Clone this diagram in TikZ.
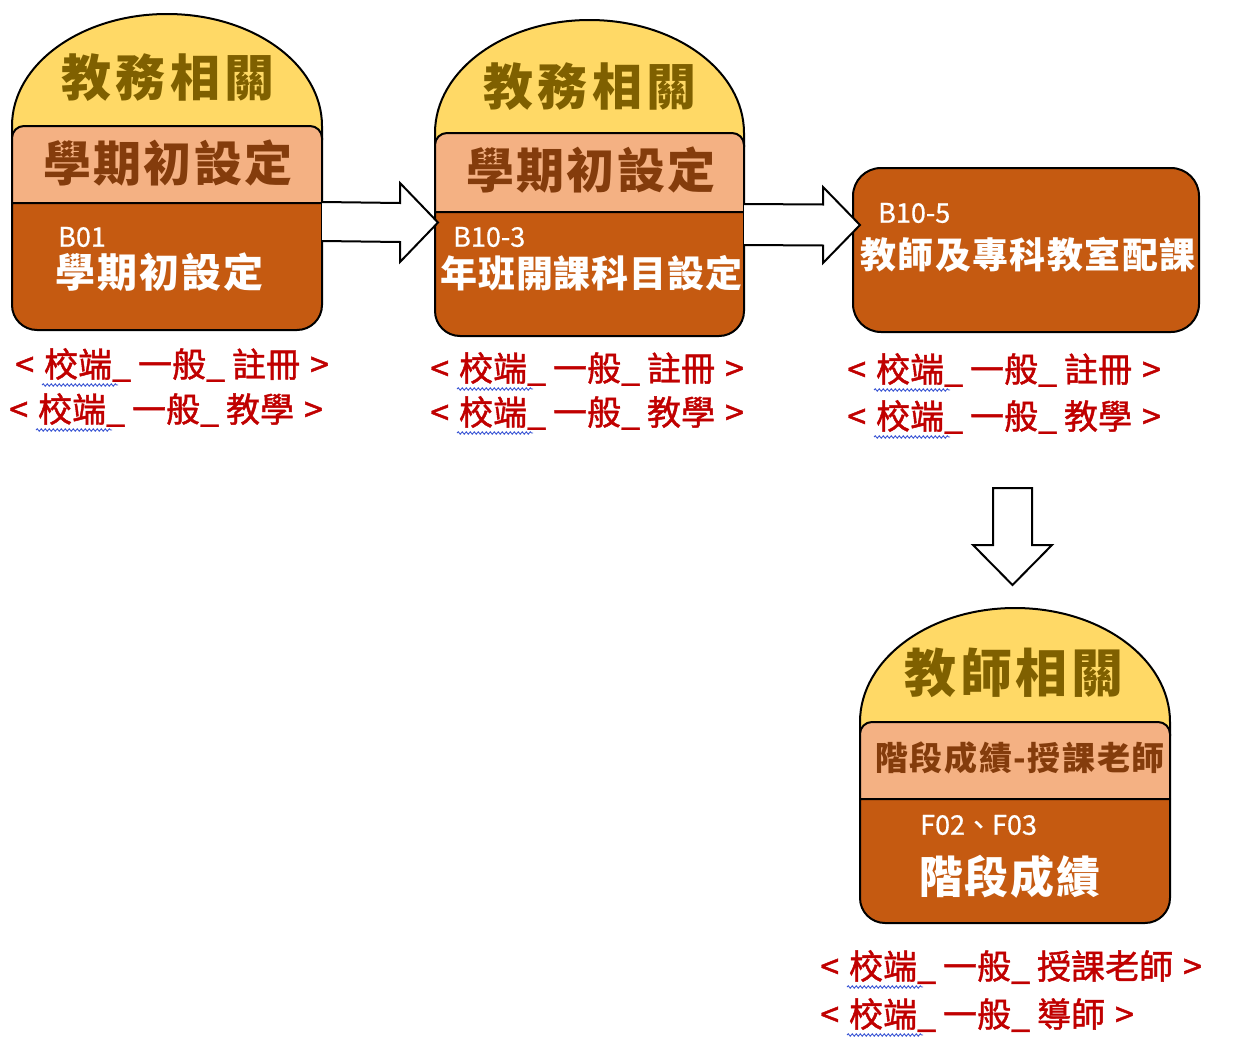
\documentclass[tikz,border=0pt]{standalone}
\usepackage{fontspec}
\setmainfont{Noto Sans CJK TC}
\newfontfamily\headfont[LetterSpace=5]{Noto Sans CJK TC}
\newfontfamily\lblfont[FakeBold=1.3]{Noto Sans CJK TC}
\newfontfamily\codefont[FakeBold=0.6]{Noto Sans CJK TC}
\usetikzlibrary{calc,decorations.pathmorphing}
\definecolor{domefill}{HTML}{FFD966}
\definecolor{dometext}{HTML}{7F6000}
\definecolor{peachfill}{HTML}{F4B183}
\definecolor{peachtext}{HTML}{843C0C}
\definecolor{darkfill}{HTML}{C55A11}
\definecolor{lblred}{HTML}{C00000}
\definecolor{spellblue}{HTML}{3A56D4}
\newcommand\lbltext[1]{<\hspace{10pt}校端\_\hspace{7pt}一般\_\hspace{7pt}#1\hspace{10pt}>}
% L R T P D B
\newcommand\drawburger[6]{%
  \pgfmathsetmacro\bxr{(#2-#1)/2}%
  \pgfmathsetmacro\byr{#4-#3}%
  \draw[outline, fill=domefill] (#1,#4+14) -- (#1,#4) arc[start angle=180,end angle=0,x radius=\bxr pt,y radius=\byr pt] -- (#2,#4+14) -- cycle;
  \draw[outline, fill=peachfill] (#1,#5) -- (#1,#4+12) arc[start angle=180,end angle=90,radius=12pt] -- (#2-12,#4) arc[start angle=90,end angle=0,radius=12pt] -- (#2,#5) -- cycle;
  \draw[outline, fill=darkfill] (#1,#5) -- (#1,#6-25) arc[start angle=180,end angle=270,radius=25pt] -- (#2-25,#6) arc[start angle=270,end angle=360,radius=25pt] -- (#2,#5) -- cycle;
}
% wavy spell-check underline under the first word of a label node
\newcommand\wavy[1]{%
  \draw[spellwave] ($(#1.base west)+(27,8)$) -- ($(#1.base west)+(103,8)$);}
\begin{document}
\begin{tikzpicture}[x=1pt,y=-1pt,
  outline/.style={draw=black, line width=2pt, line join=round},
  blockarrow/.style={draw=black, line width=2pt, fill=white, line join=miter},
  frame/.style={inner sep=0pt, outer sep=0pt, draw=none},
  spellwave/.style={draw=spellblue, line width=0.9pt, decorate,
    decoration={snake, amplitude=1.2pt, segment length=4pt}},
  dometxt/.style={font=\headfont\fontsize{50}{50}\selectfont\bfseries\addfontfeature{LetterSpace=9}, text=dometext, inner sep=0pt},
  peachtxt/.style={font=\headfont\fontsize{48}{48}\selectfont\bfseries, text=peachtext, inner sep=0pt},
  codetxt/.style={font=\codefont\fontsize{27}{27}\selectfont, text=white, inner sep=0pt, anchor=west},
  nametxt/.style={font=\headfont\fontsize{40}{40}\selectfont\bfseries, text=white, inner sep=0pt, anchor=west},
  lbl/.style={font=\lblfont\fontsize{34}{34}\selectfont, text=lblred, inner sep=0pt, anchor=west}
]
\useasboundingbox (0,0) rectangle (1234,1044);

% ---------- burger 1
\drawburger{12}{322}{14}{126}{203}{330}
\node[frame, minimum width=310pt, minimum height=316pt] (b1) at (167,172) {};
\node[dometxt] (b1dome) at (168,78) {教務相關};
\node[peachtxt] (b1peach) at (168,163) {學期初設定};
\node[codetxt] (b1code) at (58,237) {B01};
\node[nametxt] (b1name) at (55,272) {學期初設定};
\node[lbl] (b1l1) at (15,365) {\lbltext{註冊}};
\node[lbl] (b1l2) at (9,410) {\lbltext{教學}};

% ---------- burger 2
\drawburger{435}{744}{20}{133}{212}{336}
\node[frame, minimum width=309pt, minimum height=316pt] (b2) at (589.5,178) {};
\node[dometxt] (b2dome) at (590,87) {教務相關};
\node[peachtxt] (b2peach) at (591,170) {學期初設定};
\node[codetxt] (b2code) at (453,237) {B10-3};
\node[nametxt, font=\headfont\fontsize{37}{37}\selectfont\bfseries\addfontfeature{LetterSpace=2.5}] (b2name) at (440,273) {年班開課科目設定};
\node[lbl] (b2l1) at (430,369) {\lbltext{註冊}};
\node[lbl] (b2l2) at (430,413) {\lbltext{教學}};

% ---------- box 3
\node[frame, draw=black, line width=2pt, fill=darkfill, rounded corners=28pt,
      minimum width=346pt, minimum height=164pt] (b3) at (1026,250) {};
\node[codetxt] (b3code) at (878,213) {B10-5};
\node[nametxt, font=\headfont\fontsize{36}{36}\selectfont\bfseries\addfontfeature{LetterSpace=4}] (b3name) at (860,255) {教師及專科教室配課};
\node[lbl] (b3l1) at (847,370) {\lbltext{註冊}};
\node[lbl] (b3l2) at (847,417) {\lbltext{教學}};

% ---------- burger 4
\drawburger{860}{1170}{608}{722}{799}{923}
\node[frame, minimum width=310pt, minimum height=315pt] (b4) at (1015,765.5) {};
\node[dometxt, font=\headfont\fontsize{52}{52}\selectfont\bfseries\addfontfeature{LetterSpace=7}] (b4dome) at (1014,673) {教師相關};
\node[peachtxt, font=\headfont\fontsize{33}{33}\selectfont\bfseries] (b4peach) at (1020,758) {階段成績-授課老師};
\node[codetxt] (b4code) at (920,825) {F02、F03};
\node[nametxt, font=\headfont\fontsize{44}{44}\selectfont\bfseries\addfontfeature{LetterSpace=4}] (b4name) at (919,877) {階段成績};
\node[lbl] (b4l1) at (820,967) {\lbltext{授課老師}};
\node[lbl] (b4l2) at (820,1015) {\lbltext{導師}};

% ---------- spell-check wavy underlines
\wavy{b1l1}\wavy{b1l2}\wavy{b2l1}\wavy{b2l2}
\wavy{b3l1}\wavy{b3l2}\wavy{b4l1}\wavy{b4l2}

% ---------- block arrows
\coordinate (a1s) at (b1.east |- 0,221.5);
\coordinate (a1e) at (b2.west |- 0,222.5);
\draw[blockarrow] ($(a1s)+(0,-19.5)$) -- ($(a1e)+(-35,-19.5)$) -- ($(a1e)+(-35,-39.5)$)
  -- ($(a1e)+(3,0)$) -- ($(a1e)+(-35,39.5)$) -- ($(a1e)+(-35,19.5)$) -- ($(a1s)+(0,19.5)$);

\coordinate (a2s) at (b2.east |- 0,224.5);
\coordinate (a2e) at (b3.west |- 0,225);
\draw[blockarrow] ($(a2s)+(0,-20.5)$) -- ($(a2e)+(-30,-20.5)$) -- ($(a2e)+(-30,-38)$)
  -- ($(a2e)+(7,0)$) -- ($(a2e)+(-30,38)$) -- ($(a2e)+(-30,20.5)$) -- ($(a2s)+(0,20.5)$);

\coordinate (a3s) at ($(b4.north)+(-2.5,-120)$);
\coordinate (a3e) at ($(b4.north)+(-2.5,-23)$);
\draw[blockarrow] ($(a3s)+(-19.5,0)$) -- ($(a3e)+(-19.5,-40)$) -- ($(a3e)+(-39.5,-40)$)
  -- (a3e) -- ($(a3e)+(39.5,-40)$) -- ($(a3e)+(19.5,-40)$) -- ($(a3s)+(19.5,0)$) -- cycle;
\end{tikzpicture}
\end{document}
